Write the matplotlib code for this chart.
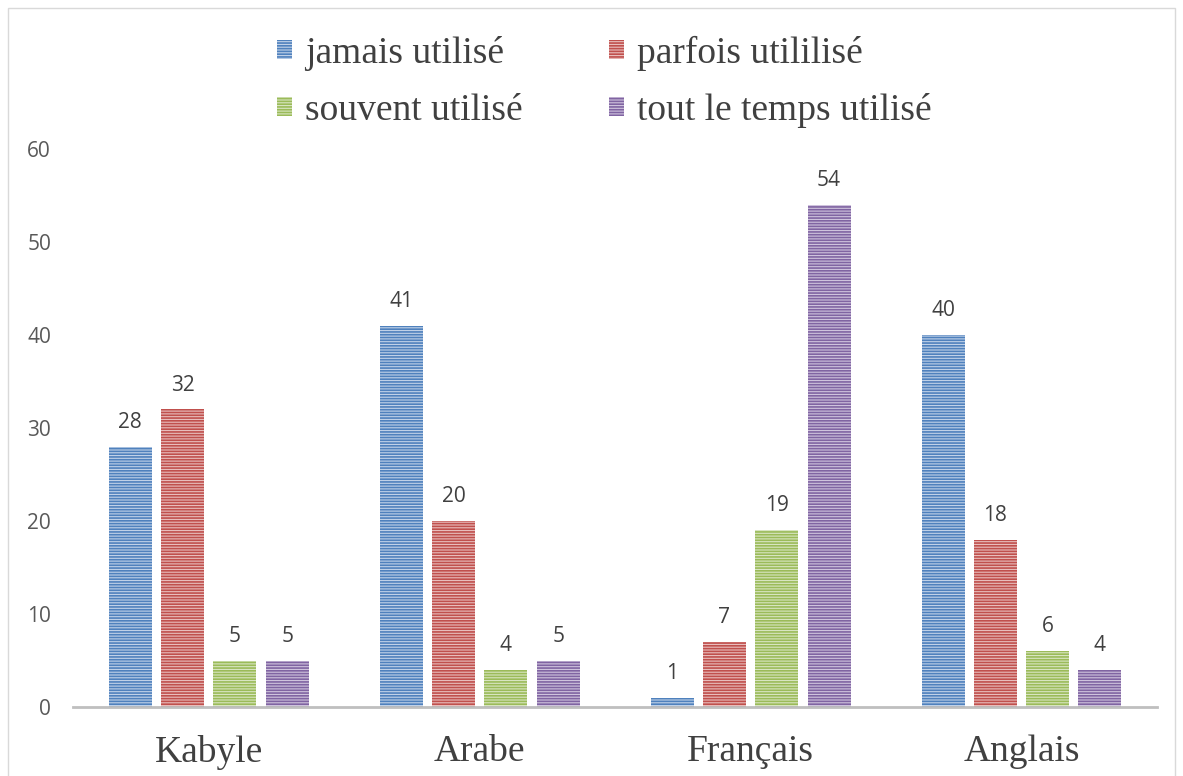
import numpy as np
import matplotlib.pyplot as plt
from matplotlib.patches import Rectangle

langues = ['Kabyle', 'Arabe', 'Français', 'Anglais']
series = ['jamais utilisé', 'parfois utililisé', 'souvent utilisé', 'tout le temps utilisé']
jamais = [28, 41, 1, 40]
parfois = [32, 20, 7, 18]
souvent = [5, 4, 19, 6]
tout_temps = [5, 5, 54, 4]
valeurs = [jamais, parfois, souvent, tout_temps]

couleurs = ['#4F81BD', '#C0504D', '#9BBB59', '#8064A2']
clairs = ['#C0D1E8', '#E8BDBC', '#D8E5C1', '#CFC3DD']

plt.rcParams['hatch.linewidth'] = 1.2

fig = plt.figure(figsize=(11.83, 7.76), dpi=100)
ax = fig.add_axes([0.062, 0.0889, 0.916, 0.719])

x = np.arange(len(langues))
pas = 0.193
larg = 0.159
handles = []
for i, (nom, vals) in enumerate(zip(series, valeurs)):
    pos = x + (i - 1.5) * pas
    barres = ax.bar(pos, vals, larg, color=clairs[i], edgecolor=couleurs[i],
                    linewidth=0, hatch='------', label=nom)
    handles.append(barres)
    for p, v in zip(pos, vals):
        ax.annotate(str(v), (p, v), xytext=(0, 10), textcoords='offset points',
                    ha='center', va='bottom', fontsize=15,
                    color='#404040', family='Open Sans')

ax.set_xlim(-0.5, 3.5)
ax.set_ylim(0, 60)
ax.set_yticks(range(0, 61, 10))
ax.set_xticks(x)
ax.set_xticklabels(langues, family='Liberation Serif', fontsize=27, color='#404040')
for lab in ax.get_yticklabels():
    lab.set_family('Open Sans')
    lab.set_fontsize(15)
    lab.set_color('#595959')
ax.tick_params(axis='both', length=0)
ax.tick_params(axis='x', pad=20)
ax.tick_params(axis='y', pad=16)
for s in ['top', 'right', 'left']:
    ax.spines[s].set_visible(False)
ax.spines['bottom'].set_color('#BFBFBF')
ax.spines['bottom'].set_linewidth(2)

# ordre ligne par ligne comme dans l'original
ordre = [0, 2, 1, 3]
leg = fig.legend([handles[k] for k in ordre], [series[k] for k in ordre],
                 loc='upper center', bbox_to_anchor=(0.511, 0.993), ncol=2,
                 frameon=False, prop={'family': 'Liberation Serif', 'size': 27},
                 handlelength=0.4, handleheight=0.4, handletextpad=0.35,
                 columnspacing=2.3, labelspacing=0.6, borderpad=0.3)
for t in leg.get_texts():
    t.set_color('#404040')

fig.patches.append(Rectangle((8 / 1183, -0.01), 1167 / 1183, 1.0 - 8 / 776 + 0.01,
                             transform=fig.transFigure, fill=False,
                             edgecolor='#D9D9D9', linewidth=1))

fig.savefig('out.png', dpi=100)
